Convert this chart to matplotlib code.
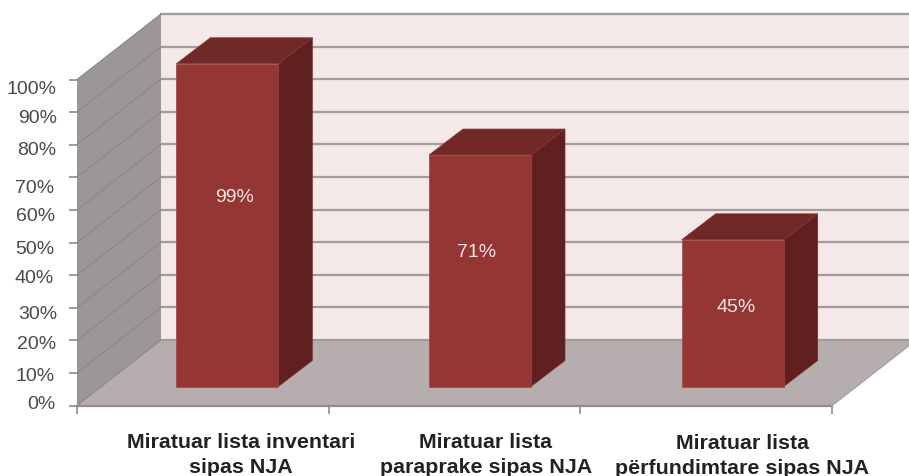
import matplotlib
matplotlib.use('Agg')
import matplotlib.pyplot as plt
from matplotlib.patches import Polygon
from matplotlib.transforms import Affine2D

plt.rcParams['font.family'] = ['Liberation Sans', 'DejaVu Sans']

# Data
categories = ['Miratuar lista inventari\nsipas NJA',
              'Miratuar lista\nparaprake sipas NJA',
              'Miratuar lista\npërfundimtare sipas NJA']
values = [99, 71, 45]
value_labels = ['99%', '71%', '45%']
y_ticks = [0, 10, 20, 30, 40, 50, 60, 70, 80, 90, 100]
y_tick_labels = ['0%', '10%', '20%', '30%', '40%', '50%', '60%', '70%', '80%', '90%', '100%']

# Small pixel corrections, the labels in the picture are not quite on their ticks
y_label_nudge = [-1, 4, 4, 7, 3, 7, 7, 11, 6, 6, 10]
y_label_gap = [22, 22, 21, 20, 23, 23, 22, 23, 21, 20, 21]
bar_nudge = [0, 1, 2]
bar_label_pos = [(7, 28), (-3, 18), (3, 6)]
cat_label_nudge = [(38, 27.5), (31.5, 27.5), (36, 28.5)]

# Colours
wall_back = '#f4e8e8'
wall_side = '#9a9796'
floor = '#b6aeae'
grid_col = '#a19d9b'
side_grid = '#8a8786'
bar_front = '#933634'
bar_top = '#702926'
bar_side = '#5f201f'
text_col = '#4a4a4a'

W, H = 909, 476
fig = plt.figure(figsize=(W / 100, H / 100), dpi=100)
# Axes is the front plane of the 3D box
ax = fig.add_axes([77 / W, 1 - 405.5 / H, 755 / W, 326 / H])
ax.set_xlim(0, 3)
ax.set_ylim(0, 100)
ax.patch.set_visible(False)
for s in ax.spines.values():
    s.set_visible(False)


def at_depth(dx, dy):
    # depth is faked by moving things up and right, in pixels
    return ax.transData + Affine2D().translate(dx, dy)


def to_px(x, y, dx=0, dy=0):
    return ax.transData.transform((x, y)) + (dx, dy)


back_dx, back_dy = 84, 65.5
back = at_depth(back_dx, back_dy)

# back wall, floor, side wall
ax.add_patch(Polygon([(0, 0), (3, 0), (3, 100), (0, 100)], closed=True, transform=back,
                     fc=wall_back, ec='none', clip_on=False, zorder=1))
ax.add_patch(Polygon([to_px(0, 0), to_px(3, 0), to_px(3, 0, back_dx, back_dy), to_px(0, 0, back_dx, back_dy)],
                     closed=True, transform=None, fc=floor, ec='none', clip_on=False, zorder=2))
ax.add_patch(Polygon([to_px(0, 0), to_px(0, 100), to_px(0, 100, back_dx, back_dy), to_px(0, 0, back_dx, back_dy)],
                     closed=True, transform=None, fc=wall_side, ec='none', clip_on=False, zorder=2))

# gridlines on back wall and side wall
for t in y_ticks:
    ax.plot([0, 3], [t, t], transform=back, color=grid_col, lw=1.6, clip_on=False, zorder=3)
    p0 = to_px(0, t)
    p1 = to_px(0, t, back_dx, back_dy)
    ax.plot([p0[0], p1[0]], [p0[1], p1[1]], transform=None, color=side_grid, lw=0.8, clip_on=False, zorder=3)

# front edge and right edge of the floor
ax.plot([0, 3], [0, 0], color='#8f8c8b', lw=1.6, clip_on=False, zorder=3)
p0 = to_px(3, 0)
p1 = to_px(3, 0, back_dx, back_dy)
ax.plot([p0[0], p1[0]], [p0[1], p1[1]], transform=None, color='#a8a5a4', lw=1.2, clip_on=False, zorder=3)

# bars
bar_dy = 19
depth_dx, depth_dy = 34, 26
width = 102 / (755 / 3)
for i, v in enumerate(values):
    bar_dx = 24.5 + bar_nudge[i]
    x0 = i + 0.5 - width / 2
    x1 = i + 0.5 + width / 2
    ax.bar(i + 0.5, v, width, color=bar_front, edgecolor='#a04542', lw=0.5,
           transform=at_depth(bar_dx, bar_dy), clip_on=False, zorder=6)
    a = to_px(x1, 0, bar_dx, bar_dy)
    b = to_px(x1, v, bar_dx, bar_dy)
    c = to_px(x1, v, bar_dx + depth_dx, bar_dy + depth_dy)
    d = to_px(x1, 0, bar_dx + depth_dx, bar_dy + depth_dy)
    ax.add_patch(Polygon([a, b, c, d], closed=True, transform=None, fc=bar_side, ec='#7a2d2b', lw=0.5,
                         clip_on=False, zorder=5))
    e = to_px(x0, v, bar_dx, bar_dy)
    f = to_px(x0, v, bar_dx + depth_dx, bar_dy + depth_dy)
    ax.add_patch(Polygon([e, b, c, f], closed=True, transform=None, fc=bar_top, ec='#8a3431', lw=0.5,
                         clip_on=False, zorder=5))
    nx, ny = bar_label_pos[i]
    ax.annotate(value_labels[i], xy=(i + 0.5, v / 2), xycoords=at_depth(bar_dx, bar_dy),
                xytext=(nx * 0.72, ny * 0.72), textcoords='offset points',
                ha='center', va='center', color='#f3e6e4', fontsize=14, zorder=7)

# ticks
ax.set_xticks([0, 1, 2, 3])
ax.set_xticklabels([])
ax.set_yticks(y_ticks)
ax.set_yticklabels([])
ax.tick_params(axis='both', length=5.8, width=1.2, color='#8f8c8b')

for t, lab, n, g in zip(y_ticks, y_tick_labels, y_label_nudge, y_label_gap):
    ax.annotate(lab, xy=(0, t), xytext=(-g * 0.72, -n * 0.72), textcoords='offset points',
                ha='right', va='center', color=text_col, fontsize=14, annotation_clip=False)

for i, lab in enumerate(categories):
    nx, ny = cat_label_nudge[i]
    ax.annotate(lab, xy=(i + 0.5, 0), xytext=(nx * 0.72, -ny * 0.72), textcoords='offset points',
                ha='center', va='top', color='#222222', fontsize=15.4, fontweight='bold',
                linespacing=1.38, annotation_clip=False)

fig.savefig('out.png', dpi=100, facecolor='white')
